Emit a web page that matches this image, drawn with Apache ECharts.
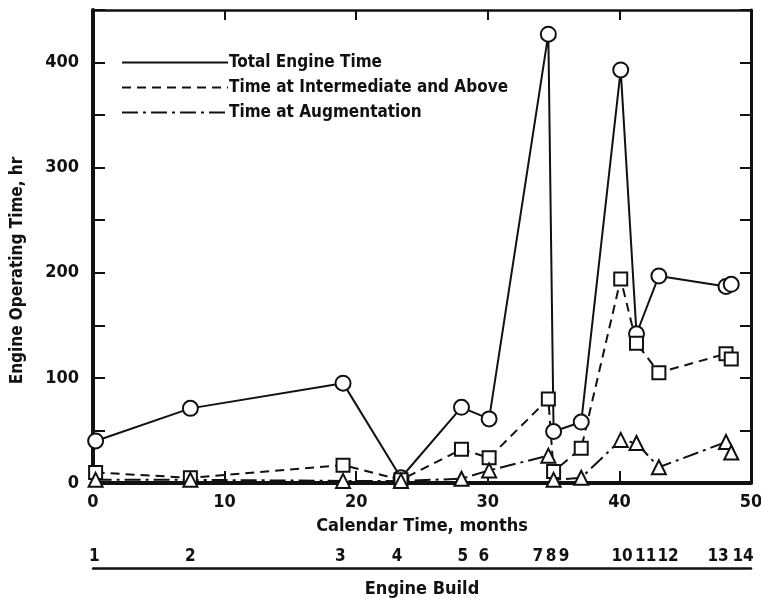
<!DOCTYPE html>
<html>
<head>
<meta charset="utf-8">
<script src="https://cdn.jsdelivr.net/npm/echarts@6/dist/echarts.min.js"></script>
<style>
  html, body { margin: 0; padding: 0; background: #fff; }
  #chart { width: 761px; height: 598px; }
</style>
</head>
<body>
<div id="chart"></div>
<script>
// calendar month of each engine build test
const months = [0.2, 7.4, 19.0, 23.4, 28.0, 30.1, 34.6, 35.0, 37.1, 40.1, 41.3, 43.0, 48.1, 48.5];
const totalTime = [40, 71, 95, 5, 72, 61, 427, 49, 58, 393, 142, 197, 187, 189];
const intermediateTime = [10, 5, 17, 3, 32, 24, 80, 11, 33, 194, 133, 105, 123, 118];
const augTime = [3, 3, 2, 2, 4, 12, 26, 3, 5, 41, 38, 15, 39, 29];

// engine build labels and where they sit under the month axis
const buildLabels = ['1', '2', '3', '4', '5', '6', '7', '8', '9', '10', '11', '12', '13', '14'];
const buildLabelMonths = [0.1, 7.4, 18.8, 23.1, 28.1, 29.7, 33.8, 34.8, 35.8, 40.2, 42.0, 43.7, 47.5, 49.4];

const seriesNames = ['Total Engine Time', 'Time at Intermediate and Above', 'Time at Augmentation'];

const FONT = '"Liberation Sans Narrow", "DejaVu Sans Condensed", sans-serif';
const INK = '#111';

function pairs(xs, ys) {
    return xs.map((x, i) => [x, ys[i]]);
}

const chart = echarts.init(document.getElementById('chart'), null, { renderer: 'canvas' });

const lineSeries = (name, data, symbol, size, dash) => ({
    name: name,
    type: 'line',
    xAxisIndex: 0,
    yAxisIndex: 0,
    data: data,
    symbol: symbol,
    symbolSize: size,
    showAllSymbol: true,
    animation: false,
    lineStyle: { color: INK, width: 2, type: dash },
    itemStyle: { color: '#fff', borderColor: INK, borderWidth: 2 }
});

const option = {
    backgroundColor: '#fff',
    animation: false,
    textStyle: { fontFamily: FONT, fontWeight: 'bold', color: INK },
    legend: {
        left: 116,
        top: 49,
        orient: 'vertical',
        itemWidth: 106,
        itemHeight: 14,
        itemGap: 8,
        itemStyle: { opacity: 0 },
        textStyle: { fontFamily: FONT, fontWeight: 'bold', fontSize: 17, color: INK, padding: [0, 0, 0, -4] },
        data: seriesNames
    },
    grid: [
        { left: 93, right: 10, top: 10, bottom: 115, outerBoundsMode: 'none' },
        { left: 93, right: 10, top: 545, height: 23, outerBoundsMode: 'none' }
    ],
    xAxis: [
        {
            type: 'value', gridIndex: 0, min: 0, max: 50, interval: 10,
            position: 'bottom',
            name: 'Calendar Time, months', nameLocation: 'middle', nameGap: 34,
            nameTextStyle: { fontFamily: FONT, fontWeight: 'bold', fontSize: 18, color: INK },
            axisLine: { onZero: false, lineStyle: { color: INK, width: 4 } },
            axisTick: { inside: true, length: 12, lineStyle: { color: INK, width: 2 } },
            axisLabel: { margin: 10, fontFamily: FONT, fontWeight: 'bold', fontSize: 18, color: INK },
            splitLine: { show: false }
        },
        {
            type: 'value', gridIndex: 0, min: 0, max: 50, interval: 10,
            position: 'top',
            axisLine: { onZero: false, lineStyle: { color: INK, width: 2.5 } },
            axisTick: { inside: true, length: 10, lineStyle: { color: INK, width: 2 } },
            axisLabel: { show: false },
            splitLine: { show: false }
        },
        {
            type: 'value', gridIndex: 1, min: 0, max: 50,
            position: 'bottom',
            name: 'Engine Build', nameLocation: 'middle', nameGap: 12,
            nameTextStyle: { fontFamily: FONT, fontWeight: 'bold', fontSize: 18, color: INK },
            axisLine: { onZero: false, lineStyle: { color: INK, width: 2.5 } },
            axisTick: { show: false },
            axisLabel: { show: false },
            splitLine: { show: false }
        }
    ],
    yAxis: [
        {
            type: 'value', gridIndex: 0, min: 0, max: 450, interval: 50,
            position: 'left',
            name: 'Engine Operating Time, hr', nameLocation: 'middle', nameGap: 67,
            nameTextStyle: { fontFamily: FONT, fontWeight: 'bold', fontSize: 17, color: INK, padding: [0, 48, 0, 0] },
            axisLine: { show: true, onZero: false, lineStyle: { color: INK, width: 4 } },
            axisTick: { inside: true, length: 12, lineStyle: { color: INK, width: 2 } },
            axisLabel: {
                margin: 14, fontFamily: FONT, fontWeight: 'bold', fontSize: 18, color: INK,
                formatter: v => (v % 100 === 0 && v < 450 ? String(v) : '')
            },
            splitLine: { show: false }
        },
        {
            type: 'value', gridIndex: 0, min: 0, max: 450, interval: 50,
            position: 'right',
            axisLine: { show: true, onZero: false, lineStyle: { color: INK, width: 3 } },
            axisTick: { inside: true, length: 11, lineStyle: { color: INK, width: 2 } },
            axisLabel: { show: false },
            splitLine: { show: false }
        },
        {
            type: 'value', gridIndex: 1, min: 0, max: 1, show: false
        }
    ],
    series: [
        lineSeries(seriesNames[0], pairs(months, totalTime), 'circle', 15, 'solid'),
        lineSeries(seriesNames[1], pairs(months, intermediateTime), 'rect', 13, [9, 6]),
        lineSeries(seriesNames[2], pairs(months, augTime), 'triangle', 14, [16, 5, 3, 5]),
        {
            name: 'build',
            type: 'scatter',
            xAxisIndex: 2,
            yAxisIndex: 2,
            symbol: 'circle',
            symbolSize: 1,
            itemStyle: { color: 'rgba(0,0,0,0)', opacity: 1 },
            silent: true,
            data: buildLabelMonths.map((m, i) => ({ value: [m, 0.5], name: buildLabels[i] })),
            label: {
                show: true, position: 'inside', formatter: p => p.name,
                fontFamily: FONT, fontWeight: 'bold', fontSize: 17, color: INK,
                textBorderWidth: 0
            },
            labelLayout: { hideOverlap: false }
        }
    ]
};

chart.setOption(option);
</script>
</body>
</html>
